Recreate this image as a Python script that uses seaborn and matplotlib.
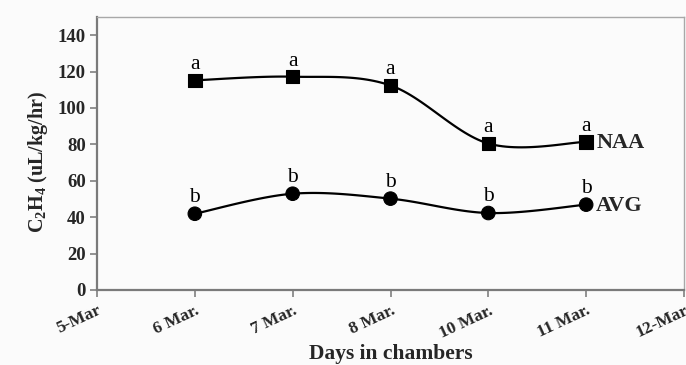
import numpy as np
import pandas as pd
import matplotlib
matplotlib.use("Agg")
import matplotlib.pyplot as plt
import seaborn as sns

# ---- data ----
tick_labels = ["5-Mar", "6 Mar.", "7 Mar.", "8 Mar.", "10 Mar.", "11 Mar.", "12-Mar"]
days = ["6 Mar.", "7 Mar.", "8 Mar.", "10 Mar.", "11 Mar."]
naa = [115.2, 117.2, 112.4, 80.5, 81.4]
avg = [41.9, 52.9, 50.2, 42.3, 46.9]
naa_letters = ["a", "a", "a", "a", "a"]
avg_letters = ["b", "b", "b", "b", "b"]

sns.set_theme(style="white")
plt.rcParams["font.family"] = ["Liberation Serif", "DejaVu Serif"]
plt.rcParams["mathtext.fontset"] = "custom"
plt.rcParams["mathtext.rm"] = "Liberation Serif:bold"
plt.rcParams["mathtext.bf"] = "Liberation Serif:bold"
plt.rcParams["mathtext.it"] = "Liberation Serif:bold"

pos = {lab: i for i, lab in enumerate(tick_labels)}
df = pd.DataFrame({
    "x": [pos[d] for d in days] * 2,
    "y": naa + avg,
    "series": ["NAA"] * len(days) + ["AVG"] * len(days),
})

fig = plt.figure(figsize=(6.86, 3.65), dpi=100, facecolor="#fbfbfb")
ax = fig.add_axes([97 / 686, 75 / 365, 587 / 686, 273 / 365])
ax.set_facecolor("#fbfbfb")


def smooth(xs, ys, n=30):
    # Excel-like smoothed line (Bezier with Catmull-Rom control points)
    P = np.column_stack([xs, ys]).astype(float)
    out = []
    for i in range(len(P) - 1):
        p0 = P[i - 1] if i > 0 else P[i]
        p1 = P[i]
        p2 = P[i + 1]
        p3 = P[i + 2] if i + 2 < len(P) else P[i + 1]
        c1 = p1 + (p2 - p0) / 6
        c2 = p2 - (p3 - p1) / 6
        t = np.linspace(0, 1, n)[:, None]
        seg = (1 - t) ** 3 * p1 + 3 * (1 - t) ** 2 * t * c1 + 3 * (1 - t) * t ** 2 * c2 + t ** 3 * p2
        out.append(seg if i == 0 else seg[1:])
    out = np.vstack(out)
    return out[:, 0], out[:, 1]


for name in ["NAA", "AVG"]:
    sub = df[df.series == name]
    sx, sy = smooth(sub.x.values, sub.y.values)
    ax.plot(sx, sy, color="black", lw=1.6, zorder=2)

sns.scatterplot(data=df, x="x", y="y", style="series", markers={"NAA": "s", "AVG": "o"},
                s=95, color="black", edgecolor="black", legend=False, ax=ax, zorder=3)

for d, v, l in zip(days, naa, naa_letters):
    ax.annotate(l, (pos[d], v), xytext=(0, 11), textcoords="offset pixels",
                ha="center", va="baseline", fontsize=15.5, color="black")
for d, v, l in zip(days, avg, avg_letters):
    ax.annotate(l, (pos[d], v), xytext=(0, 12), textcoords="offset pixels",
                ha="center", va="baseline", fontsize=15.5, color="black")

ax.annotate("NAA", (pos[days[-1]], naa[-1]), xytext=(10, -1), textcoords="offset pixels",
            ha="left", va="center", fontsize=16, fontweight="bold")
ax.annotate("AVG", (pos[days[-1]], avg[-1]), xytext=(10, -1), textcoords="offset pixels",
            ha="left", va="center", fontsize=16, fontweight="bold")

ax.set_xlim(0, 6)
ax.set_ylim(0, 150)
ax.set_yticks(range(0, 141, 20))
ax.set_xticks(range(len(tick_labels)))
ax.set_xticklabels(tick_labels, rotation=25, ha="right", rotation_mode="anchor",
                   fontweight="bold", fontsize=12.5)
for t in ax.get_yticklabels():
    t.set_fontweight("bold")
    t.set_fontsize(13.5)

ax.tick_params(axis="both", direction="out", length=5, width=1.2, color="#808080",
               bottom=True, left=True, pad=3)
ax.tick_params(axis="x", pad=4)
for side in ["left", "bottom"]:
    ax.spines[side].set_color("#7a7a7a")
    ax.spines[side].set_linewidth(1.6)
for side in ["top", "right"]:
    ax.spines[side].set_color("#a8a8a8")
    ax.spines[side].set_linewidth(1.0)

ax.set_xlabel("Days in chambers", fontsize=15.5, fontweight="bold", labelpad=2)
ax.set_ylabel("C$_2$H$_4$ (uL/kg/hr)", fontsize=14.5, fontweight="bold", labelpad=5)
ax.yaxis.set_label_coords(-0.08, 0.47)

fig.savefig("out.png", dpi=100, facecolor=fig.get_facecolor())
